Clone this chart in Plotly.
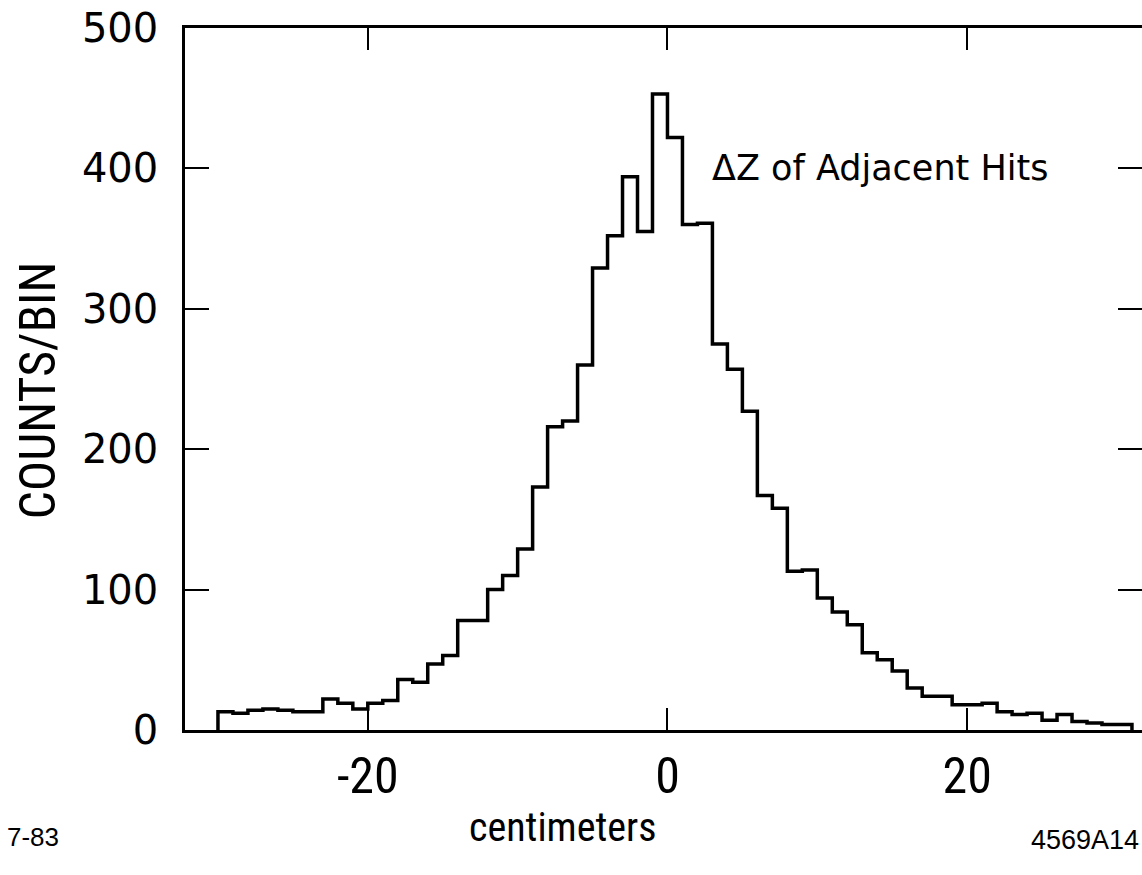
import plotly.graph_objects as go

# Bin left edges (cm), 1 cm wide bins from -30 to 31
bin_left_edges = list(range(-30, 31))
counts = [13, 12, 14, 15, 14, 13, 13, 22, 19, 15,
          19, 21, 36, 34, 47, 53, 78, 78, 100, 110,
          129, 173, 216, 220, 260, 329, 352, 394, 355, 453,
          422, 360, 361, 275, 257, 227, 167, 158, 113, 114,
          94, 84, 75, 55, 50, 42, 30, 24, 24, 18,
          18, 19, 13, 11, 12, 7, 11, 6, 5, 4, 4]
bin_width = 1

y_ticks = [0, 100, 200, 300, 400, 500]
x_ticks = [-20, 0, 20]
x_tick_labels = ["-20", "0", "20"]

# step outline built from the data
edges = bin_left_edges + [bin_left_edges[-1] + bin_width]
xs = [edges[0]] + edges + [edges[-1]]
ys = [0] + counts + [counts[-1]] + [0]

fig = go.Figure()
fig.add_trace(go.Scatter(x=xs, y=ys, mode="lines", line=dict(shape="hv", color="black", width=3.5),
                         showlegend=False, hoverinfo="skip"))
fig.add_trace(go.Scatter(x=[None], y=[None], yaxis="y2", showlegend=False, hoverinfo="skip"))

narrow = "Liberation Sans Narrow, Roboto Condensed, DejaVu Sans Condensed, Liberation Sans, sans-serif"

fig.update_layout(
    width=1142, height=875,
    margin=dict(l=185, r=0, t=28, b=145),
    paper_bgcolor="white", plot_bgcolor="white",
    xaxis=dict(range=[-32.2, 31.67], tickvals=x_ticks, ticktext=x_tick_labels,
               ticks="inside", ticklen=22, tickwidth=2, tickcolor="black",
               showline=True, linecolor="black", linewidth=2.5, mirror="ticks",
               showgrid=False, zeroline=False,
               tickfont=dict(family=narrow, size=50, color="black"),
               ticklabelstandoff=0),
    yaxis=dict(range=[0, 500], tickvals=y_ticks,
               ticks="inside", ticklen=24, tickwidth=2, tickcolor="black",
               showline=True, linecolor="black", linewidth=2.5,
               showgrid=False, zeroline=False,
               tickfont=dict(family="DejaVu Sans, sans-serif", size=40, color="black"),
               ticklabelstandoff=16),
    yaxis2=dict(range=[0, 500], tickvals=y_ticks, overlaying="y", side="right", anchor="x",
                ticks="inside", ticklen=24, tickwidth=2, tickcolor="black",
                showline=False, showgrid=False, zeroline=False, showticklabels=False),
)

fig.add_annotation(text="COUNTS/BIN", textangle=-90, xref="paper", yref="paper",
                   x=-0.1536, y=0.484, xanchor="center", yanchor="middle", showarrow=False,
                   font=dict(family=narrow, size=50, color="black"))
fig.add_annotation(text="centimeters", xref="paper", yref="paper",
                   x=0.395, y=-0.1396, xanchor="center", yanchor="middle", showarrow=False,
                   font=dict(family=narrow, size=40, color="black"))
fig.add_annotation(text="ΔZ of Adjacent Hits", xref="paper", yref="paper",
                   x=0.5486, y=0.8006, xanchor="left", yanchor="middle", showarrow=False,
                   font=dict(family="DejaVu Sans, sans-serif", size=35, color="black"))
fig.add_annotation(text="7-83", xref="paper", yref="paper",
                   x=-0.188, y=-0.152, xanchor="left", yanchor="middle", showarrow=False,
                   font=dict(family="Liberation Sans, Arial, sans-serif", size=26, color="black"))
fig.add_annotation(text="4569A14", xref="paper", yref="paper",
                   x=0.999, y=-0.157, xanchor="right", yanchor="middle", showarrow=False,
                   font=dict(family="Liberation Sans, Arial, sans-serif", size=27, color="black"))

fig.write_html("out.html")
